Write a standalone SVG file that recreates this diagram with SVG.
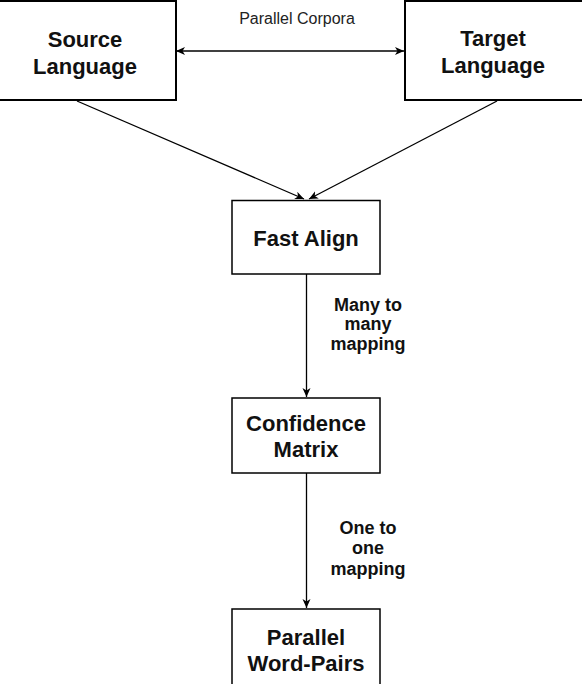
<svg xmlns="http://www.w3.org/2000/svg" width="582" height="684" viewBox="0 0 582 684">
<style>
.box{fill:#fff;stroke:#000;stroke-width:1.5}
.bbox{fill:#fff;stroke:#000;stroke-width:2}
.t{font-family:"Liberation Sans",Arial,sans-serif;font-weight:bold;font-size:22px;fill:#111;text-anchor:middle}
.e{font-family:"Liberation Sans",Arial,sans-serif;font-weight:bold;font-size:18px;fill:#111;text-anchor:middle}
.l{font-family:"Liberation Sans",Arial,sans-serif;font-size:16px;fill:#222;text-anchor:middle}
.c{fill:none;stroke:#000;stroke-width:1.3}
</style>
<defs>
<marker id="ah" markerUnits="userSpaceOnUse" markerWidth="10" markerHeight="9" refX="9" refY="4" orient="auto-start-reverse">
<path d="M0,0 L9,4 L0,8 L2.5,4 z" fill="#000"/>
</marker>
</defs>
<rect width="582" height="684" fill="#fff"/>
<g id="connectors">
<line class="c" x1="176" y1="51" x2="404" y2="51" marker-start="url(#ah)" marker-end="url(#ah)"/>
<line class="c" x1="77" y1="101" x2="304" y2="199" marker-end="url(#ah)"/>
<line class="c" x1="497" y1="101" x2="309" y2="199" marker-end="url(#ah)"/>
<line class="c" x1="306.5" y1="274" x2="306.5" y2="397" marker-end="url(#ah)"/>
<line class="c" x1="306.5" y1="473" x2="306.5" y2="608" marker-end="url(#ah)"/>
<text class="l" x="297" y="24">Parallel Corpora</text>
<text class="e" x="368" y="311">Many to</text>
<text class="e" x="368" y="330">many</text>
<text class="e" x="368" y="350">mapping</text>
<text class="e" x="368" y="534">One to</text>
<text class="e" x="368" y="554">one</text>
<text class="e" x="368" y="575">mapping</text>
</g>
<g id="source">
<rect class="bbox" x="-5" y="1" width="181" height="99"/>
<text class="t" x="85" y="47">Source</text>
<text class="t" x="85" y="74">Language</text>
</g>
<g id="target">
<rect class="bbox" x="405" y="1" width="181" height="99"/>
<text class="t" x="493" y="46">Target</text>
<text class="t" x="493" y="73">Language</text>
</g>
<g id="fastalign">
<rect class="box" x="232" y="200.5" width="148" height="73.5"/>
<text class="t" x="306" y="246">Fast Align</text>
</g>
<g id="confidence">
<rect class="box" x="232" y="398" width="148" height="75"/>
<text class="t" x="306" y="431">Confidence</text>
<text class="t" x="306" y="457">Matrix</text>
</g>
<g id="pairs">
<rect class="box" x="232" y="609" width="148" height="80"/>
<text class="t" x="306" y="645">Parallel</text>
<text class="t" x="306" y="671">Word-Pairs</text>
</g>
</svg>
